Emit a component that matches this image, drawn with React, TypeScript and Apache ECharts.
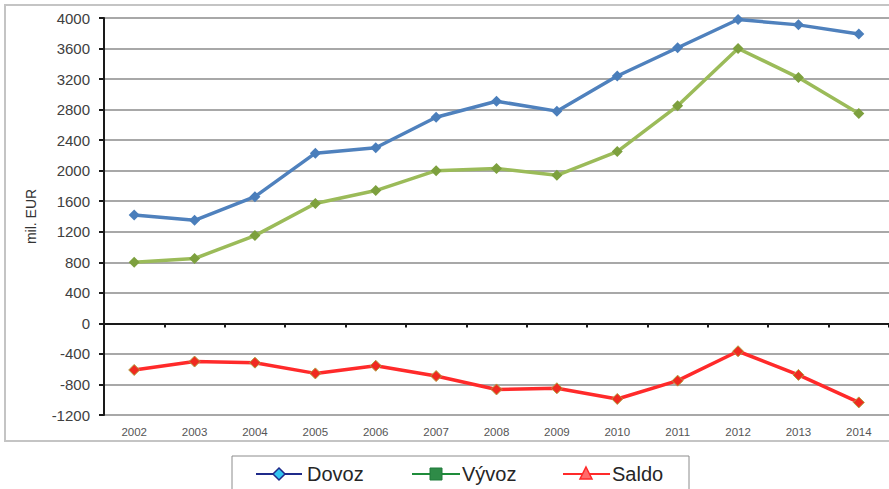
import React, { useEffect, useRef } from "react";
import * as echarts from "echarts";

const years = ["2002", "2003", "2004", "2005", "2006", "2007", "2008", "2009", "2010", "2011", "2012", "2013", "2014"];
const dovoz = [1420, 1350, 1660, 2230, 2300, 2700, 2910, 2780, 3240, 3610, 3980, 3910, 3790];
const vyvoz = [800, 850, 1150, 1570, 1740, 2000, 2030, 1940, 2250, 2850, 3600, 3220, 2750];
const saldo = [-610, -500, -515, -655, -555, -690, -865, -850, -990, -750, -365, -675, -1035];
const legendNames = ["Dovoz", "Vývoz", "Saldo"];

export default function App() {
  const ref = useRef<HTMLDivElement>(null);
  useEffect(() => {
    if (!ref.current) return;
    const chart = echarts.init(ref.current, null, { renderer: "svg" });
    const font = "Arial, 'Liberation Sans', sans-serif";
    const ly = 474;
    chart.setOption({
      animation: false,
      backgroundColor: "#ffffff",
      textStyle: { fontFamily: font },
      grid: { left: 104, top: 18, width: 789, height: 397, containLabel: false },
      xAxis: [
        {
          type: "category",
          data: years,
          position: "bottom",
          boundaryGap: true,
          axisLine: { show: false, onZero: false },
          axisTick: { show: false },
          axisLabel: { fontSize: 11.5, color: "#555555", margin: 11, fontFamily: font },
          splitLine: { show: false },
        },
        {
          type: "category",
          data: years,
          position: "top",
          boundaryGap: true,
          axisLine: { show: true, onZero: true, lineStyle: { color: "#1a1a1a", width: 2 } },
          axisTick: { show: true, inside: true, length: 4, lineStyle: { color: "#1a1a1a", width: 2 } },
          axisLabel: { show: false },
          splitLine: { show: false },
        },
      ],
      yAxis: {
        type: "value",
        min: -1200,
        max: 4000,
        interval: 400,
        name: "mil. EUR",
        nameLocation: "middle",
        nameGap: 66,
        nameTextStyle: { fontSize: 14, color: "#333333", fontFamily: font },
        axisLine: { show: true, lineStyle: { color: "#1a1a1a", width: 2 } },
        axisTick: { show: true, length: 5, lineStyle: { color: "#1a1a1a", width: 2 } },
        axisLabel: { fontSize: 15, color: "#404040", margin: 14, fontFamily: font, formatter: (v: number) => String(v) },
        splitLine: { show: true, lineStyle: { color: "#a8a8a8", width: 2 } },
      },
      series: [
        {
          name: legendNames[0],
          type: "line",
          data: dovoz,
          xAxisIndex: 0,
          symbol: "diamond",
          symbolSize: 11,
          lineStyle: { color: "#4f81bd", width: 3.5 },
          itemStyle: { color: "#4a7ebb" },
          z: 3,
        },
        {
          name: legendNames[1],
          type: "line",
          data: vyvoz,
          xAxisIndex: 0,
          symbol: "diamond",
          symbolSize: 11,
          lineStyle: { color: "#9bbb59", width: 3.5 },
          itemStyle: { color: "#7da03e" },
          z: 3,
        },
        {
          name: legendNames[2],
          type: "line",
          data: saldo,
          xAxisIndex: 0,
          symbol: "diamond",
          symbolSize: 11,
          lineStyle: { color: "#ff2a2a", width: 3.5 },
          itemStyle: { color: "#f02a20", borderColor: "#b0a040", borderWidth: 1 },
          z: 4,
        },
      ],
      graphic: [
        {
          type: "rect",
          shape: { x: 5, y: 5, width: 900, height: 436 },
          style: { fill: "none", stroke: "#c4c4c4", lineWidth: 2 },
          silent: true,
          z: -10,
        },
        { type: "rect", shape: { x: 232, y: 456, width: 457, height: 60 }, style: { fill: "#ffffff", stroke: "#8c8c8c", lineWidth: 1 } },
        { type: "line", shape: { x1: 256, y1: ly, x2: 302, y2: ly }, style: { stroke: "#1f2a8a", lineWidth: 2 } },
        { type: "polygon", shape: { points: [[279, ly - 6], [285, ly], [279, ly + 6], [273, ly]] }, style: { fill: "#33c4f0", stroke: "#1f2a8a", lineWidth: 1.5 } },
        { type: "text", x: 307, y: ly, style: { text: legendNames[0], font: `20px ${font}`, fill: "#262626", verticalAlign: "middle" } },
        { type: "line", shape: { x1: 412, y1: ly, x2: 460, y2: ly }, style: { stroke: "#1e8c3a", lineWidth: 2 } },
        { type: "rect", shape: { x: 430, y: ly - 6, width: 12, height: 12 }, style: { fill: "#2e8b47", stroke: "#1e7a3a", lineWidth: 1 } },
        { type: "text", x: 462, y: ly, style: { text: legendNames[1], font: `20px ${font}`, fill: "#262626", verticalAlign: "middle" } },
        { type: "line", shape: { x1: 563, y1: ly, x2: 610, y2: ly }, style: { stroke: "#ff2a2a", lineWidth: 2 } },
        { type: "polygon", shape: { points: [[586, ly - 7], [592, ly + 5], [580, ly + 5]] }, style: { fill: "#ff6b6b", stroke: "#ff2a2a", lineWidth: 1.5 } },
        { type: "text", x: 612, y: ly, style: { text: legendNames[2], font: `20px ${font}`, fill: "#262626", verticalAlign: "middle" } },
      ],
    });
    return () => chart.dispose();
  }, []);
  return <div ref={ref} style={{ position: "fixed", left: 0, top: 0, width: 889, height: 489 }} />;
}
